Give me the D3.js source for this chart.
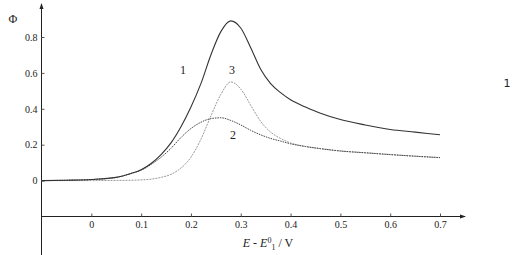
<!DOCTYPE html>
<html>
<head>
<meta charset="utf-8">
<script src="https://cdn.jsdelivr.net/npm/d3@7"></script>
<style>
  body { margin: 0; background: #fff; }
  text { font-family: "Liberation Serif", "DejaVu Serif", serif; fill: #222; }
</style>
</head>
<body>
<script>
// potential values (E - E0_1, V)
var potentials = [-0.1, -0.05, 0, 0.05, 0.08, 0.1, 0.12, 0.14, 0.16, 0.18, 0.2, 0.22, 0.24, 0.26,
  0.28, 0.3, 0.32, 0.34, 0.36, 0.38, 0.4, 0.43, 0.46, 0.5, 0.55, 0.6, 0.65, 0.7];

var curve1 = [0, 0.002, 0.006, 0.018, 0.04, 0.06, 0.095, 0.145, 0.21, 0.3, 0.41, 0.54, 0.7, 0.83,
  0.89, 0.85, 0.74, 0.62, 0.54, 0.49, 0.45, 0.41, 0.375, 0.34, 0.31, 0.285, 0.27, 0.255];
var curve2 = [0, 0.002, 0.006, 0.018, 0.04, 0.058, 0.09, 0.13, 0.18, 0.24, 0.29, 0.325, 0.345, 0.35,
  0.335, 0.31, 0.28, 0.255, 0.235, 0.22, 0.205, 0.19, 0.178, 0.165, 0.155, 0.145, 0.136, 0.128];
var curve3 = [0, 0, 0, 0.001, 0.002, 0.004, 0.008, 0.018, 0.035, 0.07, 0.13, 0.23, 0.36, 0.48,
  0.55, 0.51, 0.42, 0.33, 0.27, 0.235, 0.21, 0.19, 0.178, 0.165, 0.155, 0.145, 0.136, 0.128];

var xTicks = [0, 0.1, 0.2, 0.3, 0.4, 0.5, 0.6, 0.7];
var yTicks = [0, 0.2, 0.4, 0.6, 0.8];

var svg = d3.select("body").append("svg")
  .attr("width", 515)
  .attr("height", 255)

var x = d3.scaleLinear().domain([-0.1, 0.7]).range([41.5, 440]);
var y = d3.scaleLinear().domain([-0.2, 0.8]).range([216.5, 37]);

// axis lines with arrows
svg.append("line").attr("x1", x(-0.1)).attr("x2", x(-0.1)).attr("y1", 4).attr("y2", 255)
  .attr("stroke", "#222");
svg.append("path").attr("d", "M" + x(-0.1) + ",3 l-2,6 l4,0 z").attr("fill", "#222");
svg.append("line").attr("x1", x(-0.1)).attr("x2", 465).attr("y1", y(-0.2)).attr("y2", y(-0.2))
  .attr("stroke", "#222");
svg.append("path").attr("d", "M466," + y(-0.2) + " l-6,-2 l0,4 z").attr("fill", "#222");

var xAxis = svg.append("g")
  .attr("transform", "translate(0," + y(-0.2) + ")")
  .call(d3.axisBottom(x).tickValues(xTicks).tickSizeInner(-3).tickSizeOuter(0).tickPadding(4)
    .tickFormat(d3.format("")));
var yAxis = svg.append("g")
  .attr("transform", "translate(" + x(-0.1) + ",0)")
  .call(d3.axisLeft(y).tickValues(yTicks).tickSizeInner(-3).tickSizeOuter(0).tickPadding(4)
    .tickFormat(d3.format("")));

[xAxis, yAxis].forEach(function (a) {
  a.select(".domain").remove();
  a.selectAll("line").attr("stroke", "#555");
  a.selectAll("text").style("font-family", "Liberation Serif").style("font-size", "10px").attr("fill", "#333");
});

var line = d3.line()
  .x(function (d) { return x(d[0]); })
  .y(function (d) { return y(d[1]); })
  .curve(d3.curveMonotoneX);

function pts(vals) {
  return potentials.map(function (p, i) { return [p, vals[i]]; });
}

svg.append("path").datum(pts(curve3)).attr("d", line)
  .attr("fill", "none").attr("stroke", "#999").attr("stroke-width", 1).attr("stroke-dasharray", "2,1");
svg.append("path").datum(pts(curve2)).attr("d", line)
  .attr("fill", "none").attr("stroke", "#444").attr("stroke-width", 1).attr("stroke-dasharray", "1.5,1");
svg.append("path").datum(pts(curve1)).attr("d", line)
  .attr("fill", "none").attr("stroke", "#333").attr("stroke-width", 1.1);

// curve labels
var labels = [["1", 183, 74], ["3", 232, 74], ["2", 233, 139]];
labels.forEach(function (l) {
  svg.append("text").attr("x", l[1]).attr("y", l[2]).attr("text-anchor", "middle")
    .style("font-size", "12px").text(l[0]);
});

svg.append("text").attr("x", 13).attr("y", 23).attr("text-anchor", "middle")
  .style("font-size", "12px").text("Φ");

// x axis title
var t = svg.append("text").attr("x", 268).attr("y", 247).attr("text-anchor", "middle")
  .style("font-size", "12px");
t.append("tspan").style("font-style", "italic").text("E");
t.append("tspan").text(" - ");
t.append("tspan").style("font-style", "italic").text("E");
t.append("tspan").attr("dy", -4).style("font-size", "8px").text("0");
t.append("tspan").attr("dy", 7).style("font-size", "8px").text("1");
t.append("tspan").attr("dy", -3).text(" / V");

svg.append("text").attr("x", 507).attr("y", 87).attr("text-anchor", "middle")
  .style("font-family", "DejaVu Sans").style("font-size", "11px").text("1");
</script>
</body>
</html>
